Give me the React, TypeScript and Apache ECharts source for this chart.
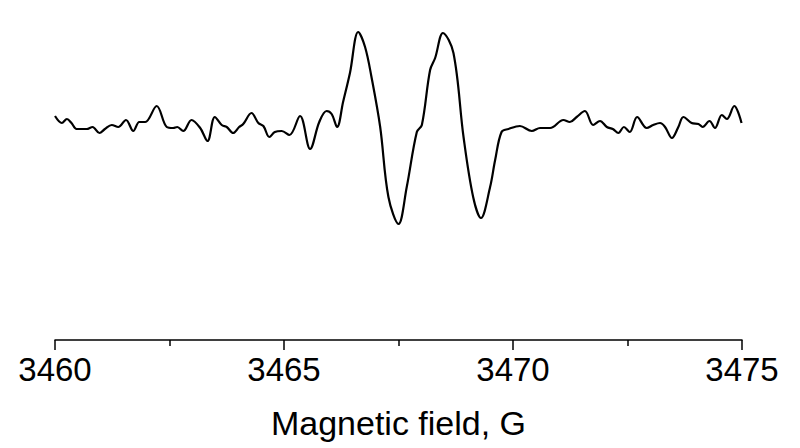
import React, { useEffect, useRef } from "react";
import * as echarts from "echarts";

const fieldG = [
  3460.0, 3460.15, 3460.26, 3460.36, 3460.47, 3460.58, 3460.69, 3460.82, 3460.97, 3461.09,
  3461.24, 3461.38, 3461.55, 3461.71, 3461.84, 3461.97, 3462.22, 3462.44, 3462.58, 3462.67,
  3462.8, 3462.98, 3463.17, 3463.33, 3463.49, 3463.64, 3463.75, 3463.89, 3464.02, 3464.11,
  3464.29, 3464.44, 3464.55, 3464.68, 3464.8, 3464.95, 3465.12, 3465.35, 3465.57, 3465.77,
  3465.93, 3466.04, 3466.16, 3466.29, 3466.44, 3466.62, 3466.77, 3466.91, 3467.1, 3467.28,
  3467.5, 3467.68, 3467.9, 3468.01, 3468.19, 3468.3, 3468.47, 3468.7, 3468.92, 3469.13,
  3469.3, 3469.5, 3469.61, 3469.75, 3469.9, 3470.15, 3470.41, 3470.59, 3470.81, 3471.1,
  3471.24, 3471.39, 3471.57, 3471.75, 3471.9, 3472.05, 3472.18, 3472.3, 3472.42, 3472.55,
  3472.71, 3472.92, 3473.06, 3473.21, 3473.32, 3473.47, 3473.61, 3473.72, 3473.9, 3474.05,
  3474.14, 3474.29, 3474.41, 3474.56, 3474.67, 3474.83, 3474.99,
];

const signal = [
  12, 5, 9, 5, -1, -1, -1, 1, -5, -1,
  3, 1, 8, -3, 6, 6, 22, 1, 0, 1,
  -3, 8, 0, -13, 11, 3, 1, -5, 1, 4,
  15, 5, 2, -9, -4, -3, -7, 12, -21, 6,
  17, 14, 1, 26, 55, 96, 81, 51, 1, -69,
  -96, -59, -4, 3, 58, 70, 95, 75, -9, -69,
  -90, -59, -32, -4, -1, 2, -3, 0, 0, 8,
  6, 11, 17, 3, 7, 1, -1, -5, 1, -4,
  11, 0, 3, 5, 1, -10, 1, 11, 5, 4,
  1, 7, 0, 13, 9, 22, 5,
];

const xMin = 3460;
const xMax = 3475;
const xStep = 5;
const axisTitle = "Magnetic field, G";

export default function App() {
  const ref = useRef<HTMLDivElement>(null);
  useEffect(() => {
    if (!ref.current) return;
    const chart = echarts.init(ref.current, null, { renderer: "svg" });
    const font = "'Liberation Sans', Arial, sans-serif";
    chart.setOption({
      animation: false,
      backgroundColor: "#ffffff",
      grid: { left: 55, right: 58, top: 20, bottom: 108 },
      xAxis: {
        type: "value",
        min: xMin,
        max: xMax,
        interval: xStep,
        name: axisTitle,
        nameLocation: "middle",
        nameGap: 66,
        nameTextStyle: { color: "#000", fontSize: 34, fontFamily: font },
        axisLine: { onZero: false, lineStyle: { color: "#000", width: 1.5 } },
        axisTick: { length: 10, lineStyle: { color: "#000", width: 1.5 } },
        minorTick: { show: true, splitNumber: 2, length: 6, lineStyle: { color: "#000", width: 1.5 } },
        splitLine: { show: false },
        axisLabel: {
          color: "#000",
          fontSize: 33,
          fontFamily: font,
          margin: 13,
          formatter: (v: number) => String(v),
        },
      },
      yAxis: {
        type: "value",
        min: -212,
        max: 108,
        show: false,
      },
      series: [
        {
          type: "line",
          data: fieldG.map((x, i) => [x, signal[i]]),
          showSymbol: false,
          smooth: 0.35,
          lineStyle: { color: "#000", width: 2.2 },
        },
      ],
    });
    return () => chart.dispose();
  }, []);
  return <div ref={ref} style={{ width: 800, height: 448, position: "absolute", left: 0, top: 0 }} />;
}
